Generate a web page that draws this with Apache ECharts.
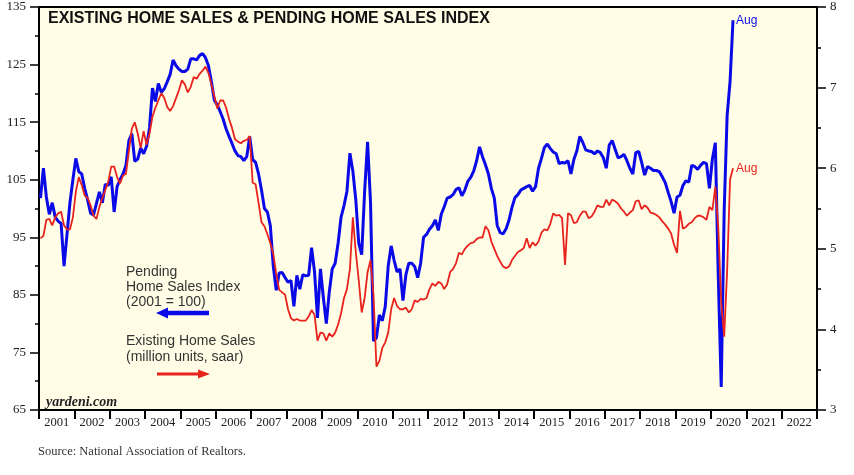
<!DOCTYPE html>
<html>
<head>
<meta charset="utf-8">
<script src="https://cdn.jsdelivr.net/npm/echarts@6/dist/echarts.min.js"></script>
<style>
html,body{margin:0;padding:0;background:#fff;}
#c{width:854px;height:475px;}
</style>
</head>
<body>
<div id="c"></div>
<script>
// Year categories for the time axis
var years = ['2001','2002','2003','2004','2005','2006','2007','2008','2009','2010','2011',
             '2012','2013','2014','2015','2016','2017','2018','2019','2020','2021','2022'];

// Pending Home Sales Index (2001 = 100), monthly Jan 2001 - Aug 2020
var pendingIndex = [
  101.8,107,102,99,101,98.5,97.8,97.4,90,95.5,101,105,
  108.7,106.4,106,103.5,101.5,99.2,98.9,100.9,102.9,101,104.2,104,
  105.5,99.4,103.8,105,106,107.5,111.8,113,108.2,108.6,110.5,109.5,
  110.8,114,120.9,118.6,121.7,120.2,120.8,122,123.3,125.8,124.8,124.2,
  123.8,123.8,124.2,126,126,125.8,126.6,126.9,126.2,124.8,122,118.8,
  118,116.8,115.5,113.8,112.5,111.3,110,109.2,109,108.3,109,112.5,
  108.5,108,106,103.2,100,99.4,97,90,85.8,88.8,88.9,88,
  87.2,87.5,83,88.4,86,88.5,88.3,88.4,93.2,89,81,89.5,
  84.5,80,85.5,89.5,90.5,94,98.5,100.5,103,109.6,106.5,101.5,
  94,92,103,111.6,101,77,77.5,81.5,80.5,83,90,93.5,
  91,89,89.5,84,88.5,90.5,90.5,89.9,88,90.5,95,95.5,
  96.4,97,98,96.2,99,100.3,101.8,102,102.4,103.3,103.6,102.2,
  103.2,104.7,105.4,106.5,108.3,110.7,109,107.6,106,103.5,101.8,97,
  95.8,95.6,96.5,98,100.2,101.9,102.4,103.2,103.5,103.8,104,103,
  103.8,107,108.7,110.6,111.2,110.4,109.8,109.5,107.8,108,107.9,108.3,
  106,108.5,110,112.5,111.5,110.2,110,109.9,109.5,110,109.7,108.8,
  107,111,111.8,110.3,108.8,109,109.4,108.3,107,106,109.7,109.9,
  108,105.8,107.3,107,106.6,106.6,106.4,105.5,104.5,102.8,101.2,99.2,
  102,102.3,104,104.8,104.6,107.5,107.3,106.8,107.5,108,107.8,103.5,
  108.6,111.4,88.2,69,99.6,116.1,122.1,132.7
];

// Existing Home Sales (million units, saar), monthly Jan 2001 - Aug 2020
var existingSales = [
  5.13,5.16,5.36,5.37,5.29,5.39,5.44,5.46,5.29,5.24,5.24,5.39,
  5.71,5.89,5.79,5.66,5.63,5.54,5.41,5.37,5.52,5.63,5.73,5.83,
  6.02,6.02,5.89,5.81,5.91,5.93,6.21,6.49,6.57,6.43,6.25,6.46,
  6.29,6.43,6.64,6.75,6.84,6.93,6.87,6.76,6.71,6.77,6.87,6.97,
  7.09,7.04,6.94,7.01,7.13,7.11,7.17,7.21,7.26,7.18,7.04,6.89,
  6.74,6.84,6.84,6.75,6.61,6.50,6.36,6.33,6.31,6.34,6.35,6.40,
  5.82,5.80,5.57,5.33,5.28,5.18,5.07,4.94,4.69,4.49,4.46,4.43,
  4.25,4.14,4.11,4.13,4.11,4.11,4.11,4.16,4.24,4.18,3.86,3.96,
  3.95,3.86,3.95,3.91,3.96,4.06,4.20,4.39,4.50,4.75,5.39,4.96,
  4.61,4.21,4.39,4.71,4.86,4.43,3.54,3.61,3.77,3.84,3.96,4.25,
  4.39,4.29,4.25,4.25,4.27,4.21,4.25,4.36,4.34,4.38,4.37,4.39,
  4.50,4.57,4.54,4.59,4.57,4.50,4.56,4.71,4.75,4.82,4.95,4.93,
  5.00,5.04,5.07,5.08,5.12,5.14,5.14,5.28,5.23,5.09,5.00,4.91,
  4.84,4.78,4.76,4.78,4.86,4.91,4.96,4.98,5.01,5.13,5.01,5.08,
  5.04,5.09,5.20,5.24,5.23,5.31,5.44,5.41,5.42,5.38,4.80,5.44,
  5.42,5.32,5.33,5.41,5.46,5.46,5.38,5.40,5.46,5.54,5.52,5.52,
  5.61,5.54,5.61,5.59,5.56,5.50,5.46,5.41,5.45,5.48,5.59,5.60,
  5.49,5.54,5.51,5.45,5.44,5.42,5.39,5.34,5.30,5.25,5.19,5.05,
  4.95,5.47,5.25,5.27,5.31,5.33,5.38,5.41,5.41,5.39,5.36,5.52,
  5.48,5.77,5.27,4.33,3.91,4.72,5.86,6.00
];

var leftTicks = {min: 65, max: 135, step: 10};
var rightTicks = {min: 3, max: 8, step: 1};

var BLUE = '#0a0ae8';
var RED = '#e8231e';

function toPoints(arr){ return arr.map(function(v,i){ return [i + 0.5, v]; }); }

var chart = echarts.init(document.getElementById('c'), null, {renderer:'canvas'});

var axisCommon = {
  axisLine: {show: true, lineStyle: {color: '#000', width: 2}},
  splitLine: {show: false},
  axisLabel: {fontFamily: 'Liberation Serif', fontSize: 13, color: '#222', margin: 13},
  axisTick: {show: true, inside: false, length: 9, lineStyle: {color: '#000', width: 1.5}},
  minorTick: {show: true, splitNumber: 2, length: 4, lineStyle: {color: '#000', width: 1.5}}
};

chart.setOption({
  animation: false,
  grid: {left: 39, right: 37, top: 7, bottom: 65, show: true, borderColor: '#000', borderWidth: 2, backgroundColor: '#fffde6'},
  xAxis: [
    {
      type: 'category', data: years, boundaryGap: true, position: 'bottom',
      axisLine: {show: true, lineStyle: {color: '#000', width: 2}},
      axisTick: {show: true, interval: 0, length: 9, lineStyle: {color: '#000', width: 2}},
      axisLabel: {interval: 0, fontFamily: 'Liberation Serif', fontSize: 12.5, color: '#222', margin: 6},
      splitLine: {show: false}
    },
    {type: 'value', min: 0, max: years.length * 12, show: false}
  ],
  yAxis: [
    Object.assign({type: 'value', position: 'left', min: leftTicks.min, max: leftTicks.max, interval: leftTicks.step}, axisCommon),
    Object.assign({type: 'value', position: 'right', min: rightTicks.min, max: rightTicks.max, interval: rightTicks.step}, axisCommon)
  ],
  series: [
    {
      name: 'Pending Home Sales Index', type: 'line', xAxisIndex: 1, yAxisIndex: 0,
      data: toPoints(pendingIndex), showSymbol: false, symbol: 'none',
      lineStyle: {color: BLUE, width: 3}, z: 3,
      endLabel: {show: true, formatter: 'Aug', color: BLUE, fontFamily: 'Liberation Sans', fontSize: 12, distance: 3}
    },
    {
      name: 'Existing Home Sales', type: 'line', xAxisIndex: 1, yAxisIndex: 1,
      data: toPoints(existingSales), showSymbol: false, symbol: 'none',
      lineStyle: {color: RED, width: 1.8}, z: 4,
      endLabel: {show: true, formatter: 'Aug', color: RED, fontFamily: 'Liberation Sans', fontSize: 12, distance: 3}
    }
  ],
  graphic: [
    {type: 'text', x: 48, y: 18.5, z: 10, style: {text: 'EXISTING HOME SALES & PENDING HOME SALES INDEX', font: 'bold 16px "Liberation Sans"', fill: '#111', verticalAlign: 'middle'}},
    {type: 'text', x: 126, y: 264.5, z: 10, style: {text: 'Pending\nHome Sales Index\n(2001 = 100)', font: '14px "Liberation Sans"', lineHeight: 15, fill: '#333', verticalAlign: 'top'}},
    {type: 'line', z: 10, shape: {x1: 209, y1: 313, x2: 165, y2: 313}, style: {stroke: BLUE, lineWidth: 4.5}},
    {type: 'polygon', z: 10, shape: {points: [[156,313],[168,307.5],[168,318.5]]}, style: {fill: BLUE}},
    {type: 'text', x: 126, y: 332.7, z: 10, style: {text: 'Existing Home Sales\n(million units, saar)', font: '14px "Liberation Sans"', lineHeight: 16, fill: '#333', verticalAlign: 'top'}},
    {type: 'line', z: 10, shape: {x1: 157, y1: 374, x2: 200, y2: 374}, style: {stroke: RED, lineWidth: 3}},
    {type: 'polygon', z: 10, shape: {points: [[210,374],[198,369.5],[198,378.5]]}, style: {fill: RED}},
    {type: 'text', x: 46, y: 402, z: 10, style: {text: 'yardeni.com', font: 'italic bold 14px "Liberation Serif"', fill: '#222', verticalAlign: 'middle'}},
    {type: 'text', x: 38, y: 452, z: 10, style: {text: 'Source: National Association of Realtors.', font: '12.5px "Liberation Serif"', fill: '#333', verticalAlign: 'middle'}}
  ]
});
</script>
</body>
</html>
